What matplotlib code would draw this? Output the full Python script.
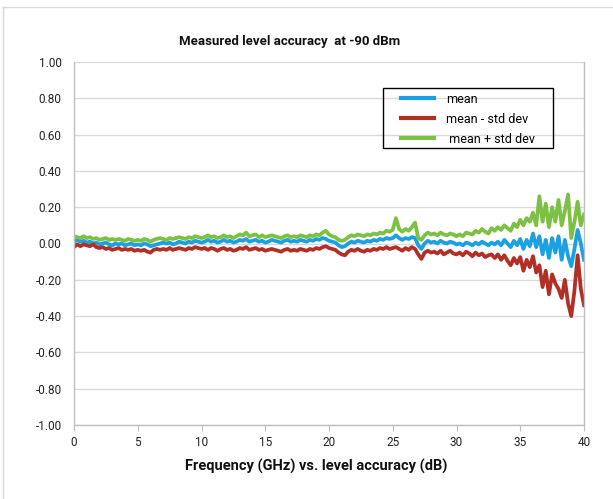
import numpy as np
import matplotlib
matplotlib.use("Agg")
import matplotlib.pyplot as plt
from matplotlib.lines import Line2D
from matplotlib.patches import Rectangle
from matplotlib.legend_handler import HandlerLine2D

plt.rcParams['font.family'] = ['Roboto', 'DejaVu Sans']

title = "Measured level accuracy  at -90 dBm"
xlabel = "Frequency (GHz) vs. level accuracy (dB)"
series_names = ["mean", "mean - std dev", " mean + std dev"]
x_ticks = [0, 5, 10, 15, 20, 25, 30, 35, 40]
y_ticks = [-1.0, -0.8, -0.6, -0.4, -0.2, 0.0, 0.2, 0.4, 0.6, 0.8, 1.0]

freq_ghz = np.arange(0, 40.001, 0.25)

mean = [
    0.01, 0.02, 0.01, 0.015, 0.005,
    0.01, 0.0, 0.005, -0.005,
    0.0, 0.005, -0.005, -0.01,
    0.0, -0.005, 0.0, -0.01,
    -0.005, 0.0, -0.01, -0.005,
    -0.01, 0.0, -0.005, -0.015,
    -0.01, -0.005, 0.0, 0.005,
    0.0, 0.005, -0.005, 0.0,
    0.01, 0.005, 0.0, 0.01,
    0.005, 0.015, 0.01, 0.005,
    0.01, 0.02, 0.01, 0.015,
    0.005, 0.01, 0.02, 0.01,
    0.015, 0.005, 0.01, 0.02,
    0.015, 0.025, 0.01, 0.015,
    0.02, 0.01, 0.015, 0.005,
    0.01, 0.02, 0.015, 0.01,
    0.005, 0.015, 0.02, 0.01,
    0.015, 0.01, 0.02, 0.015,
    0.01, 0.02, 0.015, 0.025,
    0.02, 0.03, 0.025, 0.015,
    0.01, 0.005, -0.01, -0.02,
    -0.015, 0.0, 0.01, 0.005,
    0.015, 0.01, 0.005, 0.015,
    0.01, 0.02, 0.015, 0.025,
    0.02, 0.03, 0.025, 0.03,
    0.045, 0.03, 0.02, 0.03,
    0.025, 0.035, 0.03, -0.01,
    -0.03, 0.0, 0.015, 0.005,
    0.01, 0.0, 0.015, 0.005,
    0.0, 0.01, 0.005, -0.005,
    0.0, -0.01, 0.005, 0.0,
    -0.01, 0.005, -0.005, 0.01,
    0.0, -0.01, 0.005, -0.005,
    0.01, -0.01, 0.02, 0.0,
    -0.02, 0.015, -0.01, 0.025,
    -0.03, 0.02, -0.015, 0.055,
    -0.02, 0.04, -0.06, 0.02,
    -0.08, 0.03, -0.05, 0.04,
    -0.09, 0.02, -0.07, -0.125,
    -0.03, 0.075, 0.0, -0.09,
]

mean_minus_std = [
    -0.02, -0.005, -0.015, -0.005, -0.01,
    -0.015, -0.005, -0.02, -0.025,
    -0.02, -0.03, -0.025, -0.035,
    -0.03, -0.025, -0.035, -0.03,
    -0.035, -0.03, -0.04, -0.035,
    -0.04, -0.035, -0.045, -0.05,
    -0.035, -0.03, -0.035, -0.03,
    -0.035, -0.025, -0.035, -0.03,
    -0.025, -0.03, -0.035, -0.025,
    -0.03, -0.02, -0.025, -0.03,
    -0.025, -0.035, -0.025, -0.03,
    -0.04, -0.03, -0.025, -0.035,
    -0.03, -0.04, -0.035, -0.025,
    -0.03, -0.02, -0.035, -0.03,
    -0.025, -0.035, -0.03, -0.04,
    -0.035, -0.03, -0.035, -0.04,
    -0.045, -0.035, -0.03, -0.04,
    -0.035, -0.04, -0.03, -0.035,
    -0.04, -0.03, -0.035, -0.025,
    -0.03, -0.02, -0.015, -0.025,
    -0.03, -0.035, -0.05, -0.06,
    -0.065, -0.045, -0.035, -0.04,
    -0.03, -0.04, -0.045, -0.035,
    -0.04, -0.03, -0.035, -0.025,
    -0.03, -0.02, -0.03, -0.025,
    -0.02, -0.03, -0.04, -0.025,
    -0.035, -0.02, -0.03, -0.06,
    -0.085, -0.05, -0.04, -0.05,
    -0.045, -0.055, -0.04, -0.06,
    -0.05, -0.04, -0.055, -0.06,
    -0.05, -0.065, -0.045, -0.055,
    -0.07, -0.05, -0.065, -0.055,
    -0.075, -0.065, -0.06, -0.08,
    -0.06, -0.09, -0.065, -0.095,
    -0.12, -0.08, -0.11, -0.075,
    -0.15, -0.09, -0.13, -0.07,
    -0.16, -0.12, -0.24, -0.15,
    -0.28, -0.17, -0.22, -0.25,
    -0.30, -0.20, -0.33, -0.40,
    -0.26, -0.065, -0.25, -0.34,
]

mean_plus_std = [
    0.04, 0.035, 0.03, 0.04, 0.03,
    0.035, 0.025, 0.03, 0.02,
    0.025, 0.03, 0.02, 0.025,
    0.02, 0.025, 0.02, 0.015,
    0.025, 0.02, 0.015, 0.02,
    0.015, 0.025, 0.02, 0.01,
    0.02, 0.025, 0.03, 0.025,
    0.02, 0.03, 0.025, 0.03,
    0.035, 0.03, 0.025, 0.035,
    0.03, 0.04, 0.035, 0.03,
    0.035, 0.045, 0.035, 0.04,
    0.03, 0.035, 0.045, 0.035,
    0.04, 0.03, 0.04, 0.05,
    0.045, 0.06, 0.04, 0.045,
    0.05, 0.035, 0.045, 0.035,
    0.04, 0.045, 0.04, 0.035,
    0.03, 0.04, 0.045, 0.035,
    0.04, 0.035, 0.045, 0.04,
    0.035, 0.045, 0.04, 0.05,
    0.045, 0.06, 0.07, 0.05,
    0.04, 0.035, 0.02, 0.015,
    0.02, 0.035, 0.045, 0.04,
    0.05, 0.045, 0.04, 0.05,
    0.045, 0.055, 0.05, 0.06,
    0.055, 0.07, 0.065, 0.075,
    0.14, 0.08, 0.065, 0.08,
    0.07, 0.09, 0.115, 0.03,
    0.02, 0.045, 0.06, 0.05,
    0.055, 0.045, 0.06, 0.05,
    0.045, 0.055, 0.05, 0.04,
    0.05, 0.04, 0.06, 0.055,
    0.05, 0.07, 0.06, 0.08,
    0.065, 0.055, 0.085, 0.07,
    0.09, 0.075, 0.10, 0.085,
    0.07, 0.11, 0.09, 0.13,
    0.10, 0.14, 0.12, 0.17,
    0.10, 0.26, 0.12, 0.22,
    0.09, 0.20, 0.12, 0.24,
    0.10, 0.18, 0.27, 0.03,
    0.12, 0.23, 0.10, 0.16,
]

colors = ['#1ba1e2', '#b22f25', '#7cc143']

W, H = 613, 499
fig = plt.figure(figsize=(W / 100, H / 100), dpi=100)
ax = fig.add_axes([74 / W, 1 - 425 / H, (584 - 74) / W, (425 - 62) / H])

for vals, c, name in zip([mean, mean_minus_std, mean_plus_std], colors, series_names):
    ax.plot(freq_ghz, vals, color=c, lw=2.7, label=name, solid_joinstyle='round')

ax.set_xlim(0, 40)
ax.set_ylim(-1.0, 1.0)
ax.set_xticks(x_ticks)
ax.set_yticks(y_ticks)
ax.set_yticklabels([f"{v:.2f}" for v in y_ticks])
ax.grid(axis='y', color='#d9d9d9', lw=1)
ax.set_axisbelow(True)
for s in ax.spines.values():
    s.set_color('#bfbfbf')
    s.set_linewidth(1)
ax.spines['top'].set_visible(False)
ax.tick_params(axis='y', length=0, pad=9, labelsize=8.5, colors='#222222')
ax.tick_params(axis='x', length=4, color='#bfbfbf', pad=4, labelsize=8.5, labelcolor='#222222')

fig.text(290 / W, 1 - 41 / H, title, ha='center', va='center', fontsize=9.5, fontweight='bold',
         color='#111111')
fig.text(316 / W, 1 - 466 / H, xlabel, ha='center', va='center', fontsize=10.5, fontweight='bold',
         color='#111111')

# legend frame
fig.add_artist(Rectangle((383 / W, 1 - 148 / H), (553 - 383) / W, (148 - 88) / H,
                         transform=fig.transFigure, facecolor='none', edgecolor='black', lw=1.0, zorder=5))
leg = ax.legend(loc='upper left', bbox_to_anchor=(383 / W, 1 - 89 / H), bbox_transform=fig.transFigure,
                frameon=False, fontsize=9,
                handlelength=3.8, handletextpad=0.95, labelspacing=0.55, borderpad=0.3,
                borderaxespad=0, handler_map={Line2D: HandlerLine2D(xpad=1.15)})
for line in leg.get_lines():
    line.set_linewidth(3.0)

fig.add_artist(Line2D([3 / W, 1], [1 - 7 / H, 1 - 7 / H], color='#d9d9d9', lw=1, transform=fig.transFigure))
fig.add_artist(Line2D([3 / W, 3 / W], [0, 1 - 7 / H], color='#d9d9d9', lw=1, transform=fig.transFigure))

fig.savefig('out.png', dpi=100)
